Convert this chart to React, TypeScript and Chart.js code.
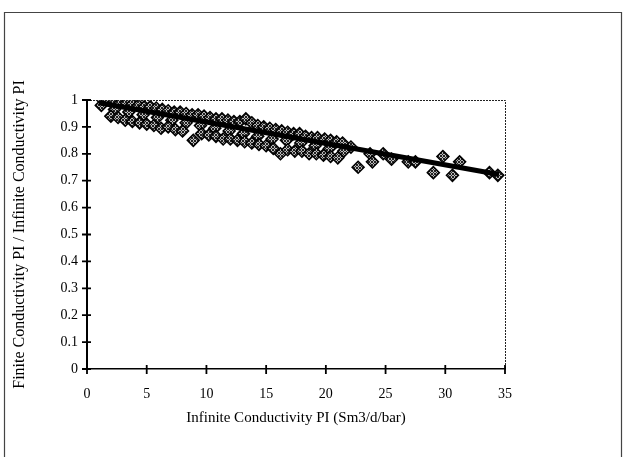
import React, { useEffect, useRef } from "react";
import { Chart, registerables } from "chart.js";

Chart.register(...registerables);

const xTicks = [0, 5, 10, 15, 20, 25, 30, 35];
const yTicks = [0, 0.1, 0.2, 0.3, 0.4, 0.5, 0.6, 0.7, 0.8, 0.9, 1];

const upperX = [1.3, 1.8, 2.3, 2.8, 3.3, 3.8, 4.3, 4.8, 5.3, 5.8, 6.3, 6.8, 7.3, 7.8, 8.3, 8.8, 9.3, 9.8, 10.3, 10.8, 11.3, 11.8, 12.3, 12.8, 13.3, 13.8, 14.3, 14.8, 15.3, 15.8, 16.3, 16.8, 17.3, 17.8, 18.3, 18.8, 19.3, 19.9, 20.4, 20.9, 21.4, 22.1];
const upperY = [1.0, 1.0, 0.995, 0.99, 0.99, 0.985, 0.98, 0.975, 0.975, 0.97, 0.965, 0.96, 0.955, 0.955, 0.95, 0.945, 0.945, 0.94, 0.935, 0.93, 0.93, 0.925, 0.92, 0.92, 0.93, 0.915, 0.905, 0.9, 0.895, 0.89, 0.885, 0.88, 0.875, 0.875, 0.865, 0.86, 0.86, 0.855, 0.85, 0.845, 0.84, 0.825];

const middleX = [1.2, 2.3, 3.5, 4.7, 5.9, 7.1, 8.3, 9.5, 10.7, 11.9, 13.1, 14.3, 15.5, 16.7, 17.9, 19.1, 20.3, 21.5];
const middleY = [0.98, 0.965, 0.955, 0.945, 0.935, 0.925, 0.915, 0.905, 0.895, 0.885, 0.875, 0.865, 0.855, 0.85, 0.84, 0.83, 0.82, 0.81];

const lowerX = [2.0, 2.6, 3.2, 3.8, 4.4, 5.0, 5.6, 6.2, 6.8, 7.4, 8.0, 8.9, 9.6, 10.2, 10.8, 11.4, 12.0, 12.6, 13.2, 13.8, 14.4, 15.0, 15.6, 16.2, 16.8, 17.4, 18.0, 18.6, 19.2, 19.8, 20.4, 21.0];
const lowerY = [0.94, 0.935, 0.925, 0.92, 0.915, 0.91, 0.905, 0.895, 0.9, 0.89, 0.885, 0.85, 0.875, 0.87, 0.865, 0.855, 0.855, 0.85, 0.845, 0.84, 0.835, 0.83, 0.82, 0.8, 0.815, 0.81, 0.81, 0.8, 0.8, 0.795, 0.79, 0.785];

const tailX = [22.7, 23.7, 23.9, 24.8, 25.5, 26.9, 27.5, 29.0, 29.8, 30.6, 31.2, 33.7, 34.4];
const tailY = [0.75, 0.8, 0.77, 0.8, 0.78, 0.77, 0.77, 0.73, 0.79, 0.72, 0.77, 0.73, 0.72];

const fitX = [1, 34.5];
const fitY = [0.99, 0.723];

const xTitle = "Infinite Conductivity PI (Sm3/d/bar)";
const yTitle = "Finite Conductivity PI / Infinite Conductivity PI";

const FONT = "'Liberation Serif', 'DejaVu Serif', serif";

function zip(xs: number[], ys: number[]) {
  return xs.map((x, i) => ({ x, y: ys[i] }));
}

function makePattern(): CanvasPattern | string {
  const c = document.createElement("canvas");
  c.width = 3;
  c.height = 3;
  const g = c.getContext("2d");
  if (!g) return "#777";
  g.fillStyle = "#bbb";
  g.fillRect(0, 0, 3, 3);
  g.fillStyle = "#222";
  g.fillRect(0, 0, 1, 1);
  g.fillRect(1, 1, 1, 1);
  g.fillRect(2, 2, 1, 1);
  g.fillRect(2, 0, 1, 1);
  g.fillRect(0, 2, 1, 1);
  return g.createPattern(c, "repeat") || "#777";
}

const decorPlugin = {
  id: "decor",
  afterDraw(chart: any) {
    const ctx = chart.ctx;
    const { left, right, top, bottom } = chart.chartArea;
    const xs = chart.scales.x;
    const ys = chart.scales.y;
    ctx.save();
    ctx.strokeStyle = "#444";
    ctx.lineWidth = 1.2;
    ctx.beginPath();
    ctx.moveTo(4.5, 470);
    ctx.lineTo(4.5, 12.5);
    ctx.lineTo(621.5, 12.5);
    ctx.lineTo(621.5, 470);
    ctx.stroke();
    ctx.strokeStyle = "#222";
    ctx.lineWidth = 1;
    ctx.setLineDash([2, 1]);
    ctx.beginPath();
    ctx.moveTo(left, top + 0.5);
    ctx.lineTo(right + 0.5, top + 0.5);
    ctx.lineTo(right + 0.5, bottom);
    ctx.stroke();
    ctx.setLineDash([]);
    ctx.strokeStyle = "#000";
    ctx.lineWidth = 1.8;
    ctx.beginPath();
    yTicks.forEach((v) => {
      const py = ys.getPixelForValue(v);
      ctx.moveTo(left - 5, py);
      ctx.lineTo(left + 4, py);
    });
    xTicks.forEach((v) => {
      const px = xs.getPixelForValue(v);
      ctx.moveTo(px, bottom - 4);
      ctx.lineTo(px, bottom + 5);
    });
    ctx.stroke();
    ctx.restore();
  },
};

export default function App() {
  const ref = useRef<HTMLCanvasElement | null>(null);
  useEffect(() => {
    if (!ref.current) return;
    const pattern = makePattern();
    const points = [
      ...zip(upperX, upperY),
      ...zip(middleX, middleY),
      ...zip(lowerX, lowerY),
      ...zip(tailX, tailY),
    ];
    const chart = new Chart(ref.current, {
      type: "scatter",
      data: {
        datasets: [
          {
            type: "line",
            label: "fit",
            data: zip(fitX, fitY),
            borderColor: "#000",
            borderWidth: 5,
            pointRadius: 0,
            order: 0,
          } as any,
          {
            label: "data",
            data: points,
            pointStyle: "rectRot",
            pointRadius: 6,
            backgroundColor: pattern as any,
            borderColor: "#000",
            borderWidth: 1.5,
            order: 1,
          },
        ],
      },
      options: {
        responsive: false,
        animation: false,
        layout: { padding: { left: 0, right: 119, top: 100, bottom: 0 } },
        plugins: { legend: { display: false }, tooltip: { enabled: false } },
        scales: {
          x: {
            type: "linear",
            min: 0,
            max: 35,
            afterFit: (s: any) => {
              s.height = 88;
            },
            afterBuildTicks: (s: any) => {
              s.ticks = xTicks.map((v) => ({ value: v }));
            },
            ticks: {
              padding: 17,
              color: "#000",
              font: { family: FONT, size: 14 },
              maxRotation: 0,
            },
            grid: { display: false, drawTicks: false },
            border: { display: true, color: "#000", width: 1.5 },
            title: {
              display: true,
              text: xTitle,
              color: "#000",
              font: { family: FONT, size: 15 },
              padding: { top: 30, bottom: 30 },
            },
          },
          y: {
            type: "linear",
            min: 0,
            max: 1,
            afterFit: (s: any) => {
              s.width = 87;
            },
            afterBuildTicks: (s: any) => {
              s.ticks = yTicks.map((v) => ({ value: v }));
            },
            ticks: {
              padding: 9,
              color: "#000",
              font: { family: FONT, size: 14 },
              callback: (v: any) => String(Math.round(Number(v) * 10) / 10),
            },
            grid: { display: false, drawTicks: false },
            border: { display: true, color: "#000", width: 2 },
            title: {
              display: true,
              text: yTitle,
              color: "#000",
              font: { family: FONT, size: 16 },
              padding: { top: 10, bottom: 10 },
            },
          },
        },
      },
      plugins: [decorPlugin],
    });
    return () => chart.destroy();
  }, []);
  return (
    <div style={{ position: "fixed", left: 0, top: 0, width: 624, height: 457, background: "#fff" }}>
      <canvas ref={ref} width={624} height={457} />
    </div>
  );
}
